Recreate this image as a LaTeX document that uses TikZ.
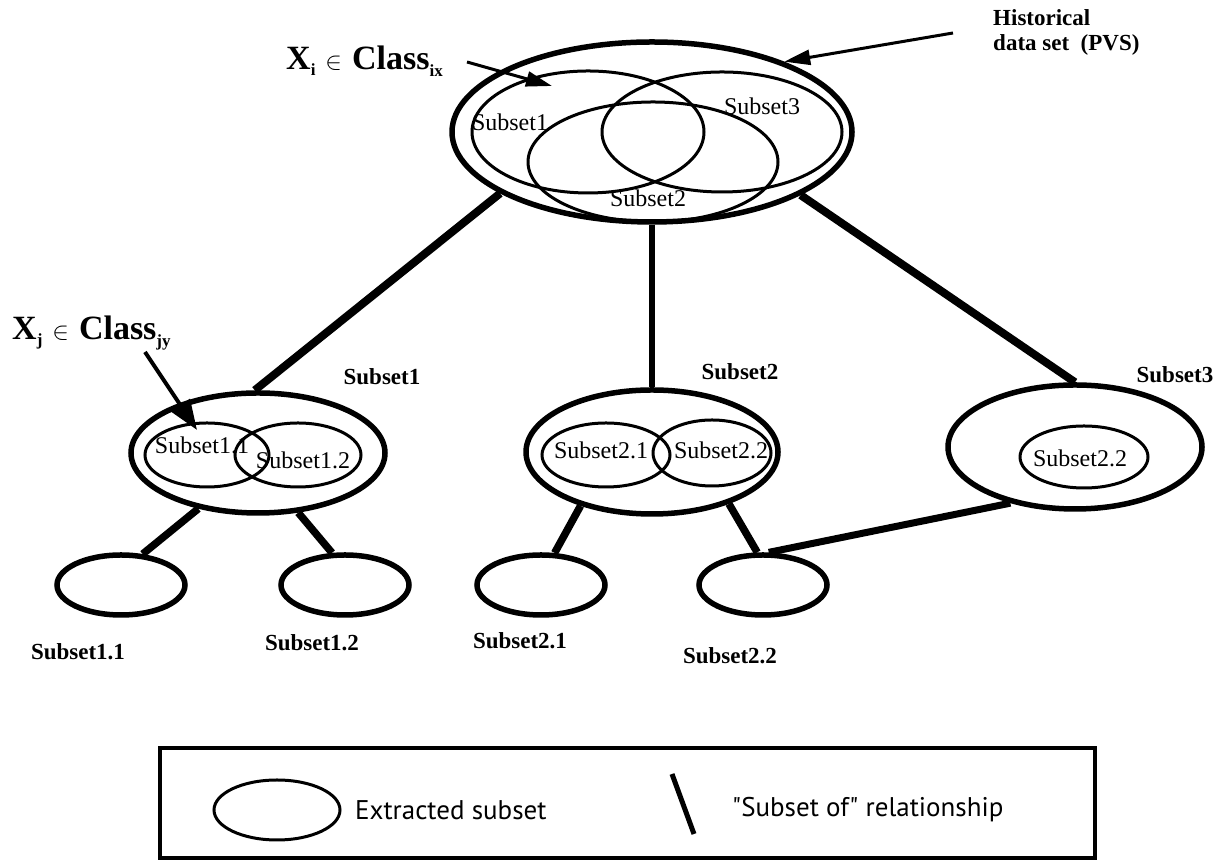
\documentclass[tikz,border=0pt]{standalone}
\usepackage{fontspec}
\setmainfont{Liberation Serif}
\newfontfamily\legendfont{PT Sans}
\usetikzlibrary{shapes.geometric,arrows.meta}
\begin{document}
\begin{tikzpicture}[x=1pt,y=1pt,
  ell/.style args={#1/#2/#3}{draw, ellipse, inner sep=0pt, line width=#3pt, minimum width=#1pt, minimum height=#2pt},
  link/.style={line width=#1pt},
  link/.default=7.5,
  inlabel/.style={font=\fontsize{24}{24}\selectfont, inner sep=0pt},
  boldlabel/.style={font=\fontsize{23}{23}\selectfont\bfseries, inner sep=0pt},
  histlabel/.style={font=\fontsize{23}{25}\selectfont\bfseries, inner sep=0pt, align=left, anchor=north west},
  biglabel/.style={font=\fontsize{34}{34}\selectfont\bfseries, inner sep=0pt, anchor=base west},
  legendtext/.style={font=\legendfont\fontsize{27}{27}\selectfont, inner sep=0pt, anchor=west},
  ptr/.style={line width=3pt, -{Triangle[length=26pt,width=15pt]}},
]
\useasboundingbox (0,0) rectangle (1218,866);

% ---- top: historical data set
\node[ell=400/180/5.5] (big) at (652,734) {};
\node[ell=232/122/3] (t1) at (588,734) {};
\node[ell=240/120/3] (t3) at (722,734) {};
\node[ell=250/120/3] (t2) at (653,704) {};
\node[inlabel] (lt1) at (510,744) {Subset1};
\node[inlabel] (lt3) at (762,760) {Subset3};
\node[inlabel] (lt2) at (648,668) {Subset2};

% ---- level 2
\node[ell=254/120/5.5] (m1) at (258,413) {};
\node[ell=252/124/5.5] (m2) at (652,414) {};
\node[ell=254/124/5.5] (m3) at (1075,419) {};
\node[ell=124/64/3] (m11) at (207,411) {};
\node[ell=126/64/3] (m12) at (298,411) {};
\node[ell=128/64/3] (m21) at (606,411) {};
\node[ell=118/66/3] (m22) at (712,413) {};
\node[ell=128/62/3] (m32) at (1084,409) {};
\node[inlabel] (l11) at (202,421) {Subset1.1};
\node[inlabel] (l12) at (303,406) {Subset1.2};
\node[inlabel] (l21) at (601,416) {Subset2.1};
\node[inlabel] (l22) at (721,416) {Subset2.2};
\node[inlabel] (l32) at (1080,408) {Subset2.2};
\node[boldlabel] (n1) at (382,489) {Subset1};
\node[boldlabel] (n2) at (740,494) {Subset2};
\node[boldlabel] (n3) at (1175,491) {Subset3};

% ---- level 3
\node[ell=128/60/5.5] (b11) at (121,281) {};
\node[ell=128/60/5.5] (b12) at (345,281) {};
\node[ell=128/60/5.5] (b21) at (541,281) {};
\node[ell=128/60/5.5] (b22) at (763,281) {};
\node[boldlabel] (nb11) at (78,214) {Subset1.1};
\node[boldlabel] (nb12) at (312,223) {Subset1.2};
\node[boldlabel] (nb21) at (520,225) {Subset2.1};
\node[boldlabel] (nb22) at (730,210) {Subset2.2};

% ---- "subset of" links
\draw[link=8] (big.202.8) -- (m1.93);
\draw[link=6] (big.south) -- (m2.north);
\draw[link=8] (big.-23.8) -- (m3.north);
\draw[link] (m1.223.5) -- (b11.55.8);
\draw[link] (m1.-56.5) -- (b12.112.5);
\draw[link] (m2.217) -- (b21.67.5);
\draw[link] (m2.-34) -- (b22.100);
\draw[link=7] (m3.221) -- (b22.80);

% ---- annotations
\node[biglabel] (xi) at (286,796) {X\raisebox{-6pt}{\fontsize{17}{17}\selectfont i}\hspace{10pt}$\in$\hspace{10pt}Class\raisebox{-7pt}{\fontsize{17}{17}\selectfont ix}};
\coordinate (xis) at (467,804);
\coordinate (xit) at (552,780);
\draw[ptr] (xis) -- (xit);

\node[histlabel] (hist) at (993,857) {Historical\\data set~ (PVS)};
\coordinate (hs) at (953,833);
\draw[ptr] (hs) -- (big.28);

\node[biglabel] (xj) at (12,526) {X\raisebox{-6pt}{\fontsize{17}{17}\selectfont j}\hspace{10pt}$\in$\hspace{10pt}Class\raisebox{-7pt}{\fontsize{17}{17}\selectfont jy}};
\coordinate (xjs) at (145,514);
\coordinate (xjt) at (197,436);
\draw[line width=4pt, -{Triangle[length=30pt,width=22pt]}] (xjs) -- (xjt);

% ---- legend
\node[draw, line width=4pt, minimum width=935pt, minimum height=110pt, inner sep=0pt] (legend) at (627.5,63) {};
\node[ell=126/60/3] (lell) at (277,56) {};
\node[legendtext] (ltx1) at (355,56) {Extracted subset};
\coordinate (sla) at (672,92);
\coordinate (slb) at (694,32);
\draw[line width=5pt] (sla) -- (slb);
\node[legendtext] (ltx2) at (732,56) {"Subset of" relationship};
\end{tikzpicture}
\end{document}
